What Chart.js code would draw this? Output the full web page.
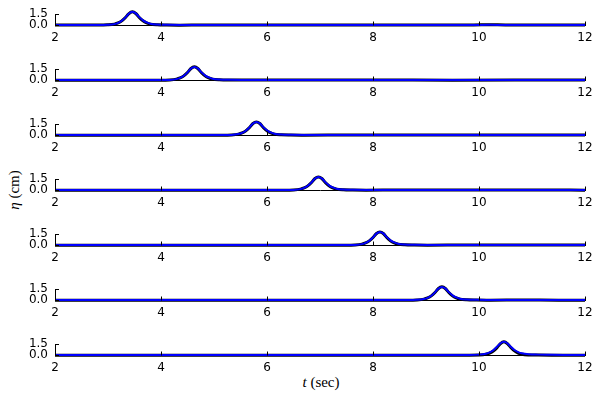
<!DOCTYPE html>
<html>
<head>
<meta charset="utf-8">
<script src="https://cdn.jsdelivr.net/npm/chart.js@4.4.0/dist/chart.umd.min.js"></script>
<style>
  body { margin: 0; background: #ffffff; }
  #wrap { position: relative; width: 600px; height: 400px; }
  .panel { position: absolute; left: 0; width: 600px; height: 55px; }
  .title { position: absolute; font-family: "Liberation Serif", "DejaVu Serif", serif; font-size: 15px; color: #000; white-space: nowrap; }
  #xtitle { left: 321px; top: 382px; transform: translate(-50%, -50%); }
  #ytitle { left: 14px; top: 190px; transform: translate(-50%, -50%) rotate(-90deg); }
</style>
</head>
<body>
<div id="wrap">
  <div id="ytitle" class="title"><i>η</i> (cm)</div>
  <div id="xtitle" class="title"><i>t</i> (sec)</div>
</div>
<script>
// wave gauge records: measured (black) and model (blue), one panel per gauge
const times1 = [2.0, 2.81, 2.99, 3.12, 3.19, 3.26, 3.33, 3.39, 3.46, 3.53, 3.59, 3.66, 3.73, 3.80, 3.93, 4.11, 4.36, 4.8, 5.6, 7.0, 8.5, 9.9, 10.2, 10.5, 12.0];
const black1 = [0.01, 0.01, 0.04, 0.14, 0.30, 0.59, 1.05, 1.55, 1.82, 1.56, 1.05, 0.60, 0.31, 0.14, 0.04, 0.01, 0.0, 0.03, 0.01, 0.02, 0.01, 0.02, 0.06, 0.02, 0.03];
const blue1  = [0.01, 0.01, 0.04, 0.14, 0.31, 0.60, 1.06, 1.56, 1.82, 1.58, 1.10, 0.66, 0.37, 0.19, 0.08, 0.04, 0.02, 0.02, 0.01, 0.01, 0.02, 0.02, 0.04, 0.02, 0.02];

const times2 = [2.0, 3.0, 3.98, 4.16, 4.29, 4.36, 4.43, 4.50, 4.56, 4.63, 4.70, 4.76, 4.83, 4.90, 4.97, 5.10, 5.28, 5.53, 6.2, 7.5, 8.0, 9.5, 11.0, 12.0];
const black2 = [0.0, 0.0, 0.0, 0.03, 0.14, 0.30, 0.59, 1.05, 1.56, 1.82, 1.56, 1.05, 0.59, 0.30, 0.14, 0.04, 0.01, 0.01, 0.03, 0.01, 0.02, 0.0, 0.01, 0.02];
const blue2  = [0.01, 0.01, 0.01, 0.03, 0.14, 0.31, 0.60, 1.06, 1.56, 1.81, 1.58, 1.10, 0.66, 0.37, 0.19, 0.08, 0.04, 0.02, 0.02, 0.03, 0.02, 0.01, 0.03, 0.02];

const times3 = [2.0, 4.0, 5.15, 5.33, 5.46, 5.53, 5.60, 5.67, 5.73, 5.80, 5.87, 5.93, 6.00, 6.07, 6.14, 6.27, 6.45, 6.70, 7.6, 8.5, 10.0, 12.0];
const black3 = [0.0, 0.0, 0.0, 0.03, 0.14, 0.30, 0.59, 1.05, 1.56, 1.81, 1.56, 1.05, 0.59, 0.30, 0.13, 0.04, 0.01, 0.0, 0.03, 0.01, 0.02, 0.01];
const blue3  = [0.01, 0.01, 0.01, 0.03, 0.15, 0.31, 0.61, 1.07, 1.57, 1.81, 1.58, 1.10, 0.66, 0.37, 0.19, 0.08, 0.04, 0.02, 0.02, 0.01, 0.01, 0.02];

const times4 = [2.0, 5.0, 6.32, 6.50, 6.63, 6.70, 6.77, 6.84, 6.90, 6.97, 7.04, 7.10, 7.17, 7.24, 7.31, 7.44, 7.62, 7.87, 8.5, 10.0, 11.0, 12.0];
const black4 = [0.0, 0.0, 0.0, 0.03, 0.14, 0.30, 0.59, 1.05, 1.56, 1.81, 1.56, 1.05, 0.59, 0.30, 0.14, 0.04, 0.01, 0.0, 0.02, 0.01, 0.02, 0.0];
const blue4  = [0.01, 0.01, 0.01, 0.03, 0.14, 0.31, 0.60, 1.06, 1.57, 1.81, 1.58, 1.10, 0.66, 0.37, 0.19, 0.08, 0.04, 0.02, 0.02, 0.01, 0.02, 0.01];

const times5 = [2.0, 6.0, 7.48, 7.66, 7.79, 7.86, 7.93, 8.00, 8.06, 8.13, 8.20, 8.26, 8.33, 8.40, 8.47, 8.60, 8.78, 9.03, 9.6, 10.4, 11.2, 12.0];
const black5 = [0.0, 0.0, 0.0, 0.03, 0.14, 0.30, 0.59, 1.05, 1.56, 1.81, 1.56, 1.05, 0.59, 0.30, 0.14, 0.04, 0.01, 0.0, 0.01, 0.03, 0.01, 0.01];
const blue5  = [0.01, 0.01, 0.01, 0.03, 0.14, 0.31, 0.60, 1.06, 1.57, 1.81, 1.58, 1.10, 0.66, 0.37, 0.19, 0.08, 0.04, 0.02, 0.02, 0.02, 0.01, 0.02];

const times6 = [2.0, 7.0, 8.65, 8.83, 8.96, 9.03, 9.10, 9.17, 9.23, 9.30, 9.37, 9.43, 9.50, 9.57, 9.64, 9.77, 9.95, 10.20, 10.8, 11.5, 12.0];
const black6 = [0.0, 0.0, 0.0, 0.03, 0.14, 0.30, 0.59, 1.05, 1.56, 1.82, 1.56, 1.05, 0.59, 0.30, 0.14, 0.04, 0.01, 0.0, 0.01, 0.0, 0.0];
const blue6  = [0.01, 0.01, 0.01, 0.04, 0.15, 0.32, 0.61, 1.07, 1.57, 1.81, 1.58, 1.10, 0.66, 0.37, 0.19, 0.08, 0.04, 0.03, 0.02, 0.02, 0.02];

const times7 = [2.0, 8.0, 9.82, 10.00, 10.13, 10.20, 10.27, 10.34, 10.40, 10.47, 10.54, 10.60, 10.67, 10.74, 10.81, 10.94, 11.12, 11.37, 11.6, 12.0];
const black7 = [0.0, 0.0, 0.0, 0.02, 0.12, 0.28, 0.57, 1.03, 1.55, 1.84, 1.56, 1.05, 0.58, 0.29, 0.12, 0.03, 0.01, 0.0, 0.0, 0.0];
const blue7  = [0.01, 0.01, 0.02, 0.07, 0.20, 0.37, 0.68, 1.14, 1.60, 1.82, 1.60, 1.14, 0.70, 0.42, 0.25, 0.12, 0.07, 0.04, 0.03, 0.02];

const yTicks = [0.0, 1.5];
const xMin = 2, xMax = 12, xStep = 2;

const panels = [
    [times1, black1, blue1],
    [times2, black2, blue2],
    [times3, black3, blue3],
    [times4, black4, blue4],
    [times5, black5, blue5],
    [times6, black6, blue6],
    [times7, black7, blue7]
];

// tick marks drawn inside the frame, like the original plot
const inwardTicks = {
    id: "inwardTicks",
    afterDraw(chart) {
        const { ctx, chartArea } = chart;
        const x = chart.scales.x, y = chart.scales.y;
        ctx.save();
        ctx.strokeStyle = "#000";
        ctx.lineWidth = 1;
        ctx.beginPath();
        x.ticks.forEach(t => {
            const px = Math.round(x.getPixelForValue(t.value)) + 0.5;
            ctx.moveTo(px, chartArea.bottom);
            ctx.lineTo(px, chartArea.bottom - 4);
        });
        y.ticks.forEach(t => {
            const py = Math.round(y.getPixelForValue(t.value)) + 0.5;
            ctx.moveTo(chartArea.left, py);
            ctx.lineTo(chartArea.left + 4, py);
        });
        ctx.stroke();
        ctx.restore();
    }
};

function toPoints(ts, vs) {
    return ts.map((t, i) => ({ x: t, y: vs[i] }));
}

function createPanel(index, ts, blackVals, blueVals) {
    const div = document.createElement("div");
    div.className = "panel";
    div.style.top = (55 * index) + "px";
    const canvas = document.createElement("canvas");
    canvas.width = 600;
    canvas.height = 55;
    div.appendChild(canvas);
    document.getElementById("wrap").appendChild(div);

    new Chart(canvas, {
        type: "line",
        data: {
            datasets: [
                {
                    data: toPoints(ts, blueVals),
                    borderColor: "#0000ff",
                    borderWidth: 2,
                    pointRadius: 0,
                    cubicInterpolationMode: "monotone",
                    clip: false,
                    order: 0
                },
                {
                    data: toPoints(ts, blackVals),
                    borderColor: "#000000",
                    borderWidth: 3,
                    pointRadius: 0,
                    cubicInterpolationMode: "monotone",
                    clip: false,
                    order: 1
                }
            ]
        },
        options: {
            responsive: false,
            animation: false,
            layout: { padding: { top: 14, right: 15, left: 0, bottom: 0 } },
            plugins: {
                legend: { display: false },
                tooltip: { enabled: false }
            },
            scales: {
                x: {
                    type: "linear",
                    min: xMin,
                    max: xMax,
                    afterFit: s => { s.height = 29.5; },
                    grid: { display: false, drawTicks: false, tickLength: 0 },
                    border: { display: true, color: "#000", width: 1 },
                    ticks: {
                        stepSize: xStep,
                        padding: 5,
                        color: "#000",
                        maxRotation: 0,
                        font: { family: "DejaVu Sans", size: 12 }
                    }
                },
                y: {
                    min: -0.05,
                    max: 1.5,
                    afterFit: s => { s.width = 55; },
                    afterBuildTicks: s => { s.ticks = yTicks.map(v => ({ value: v })); },
                    grid: { display: false, drawTicks: false, tickLength: 0 },
                    border: { display: true, color: "#000", width: 1 },
                    ticks: {
                        autoSkip: false,
                        padding: 7,
                        color: "#000",
                        font: { family: "DejaVu Sans", size: 12 },
                        callback: v => Number(v).toFixed(1)
                    }
                }
            }
        },
        plugins: [inwardTicks]
    });
}

panels.forEach((p, i) => createPanel(i, p[0], p[1], p[2]));
</script>
</body>
</html>
